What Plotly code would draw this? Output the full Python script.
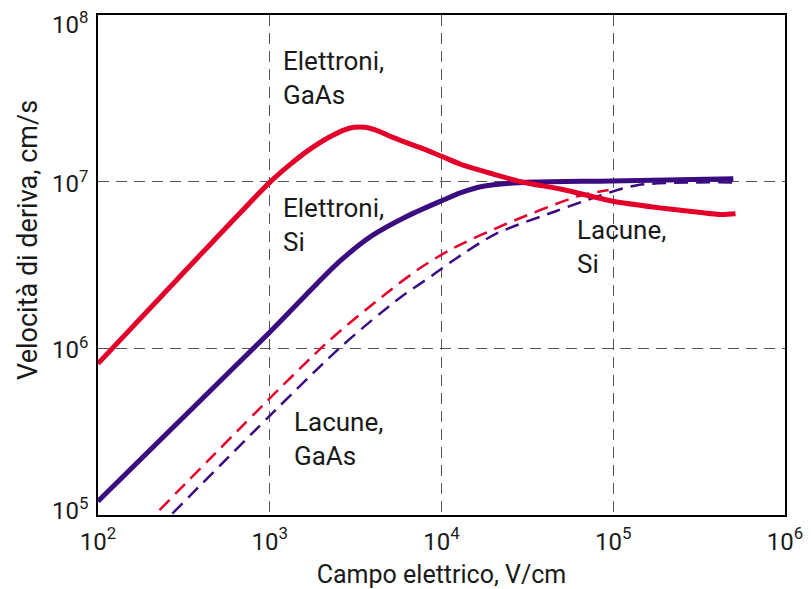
import math
import plotly.graph_objects as go

# ---- data ----
field_e_gaas = [100, 300, 1000, 1300, 1700, 2200, 2700, 3100, 3600, 4300, 5150, 7400, 10000, 13000, 20000, 29400, 50000, 98000, 200000, 314000, 420000, 515000]
v_e_gaas = [8.1e5, 2.7e6, 9.9e6, 1.256e7, 1.556e7, 1.84e7, 2.04e7, 2.12e7, 2.12e7, 2.01e7, 1.85e7, 1.61e7, 1.42e7, 1.27e7, 1.11e7, 9.95e6, 9.0e6, 7.66e6, 6.9e6, 6.55e6, 6.35e6, 6.42e6]

field_e_si = [100, 1000, 2540, 3940, 6220, 9660, 13000, 17200, 24000, 35000, 98000, 500000]
v_e_si = [1.21e5, 1.25e6, 3.31e6, 4.74e6, 6.16e6, 7.56e6, 8.6e6, 9.35e6, 9.75e6, 9.95e6, 1.01e7, 1.04e7]

field_h_gaas = [228, 2130, 4510, 7400, 11500, 23700, 63000, 94000]
v_h_gaas = [1.07e5, 1.07e6, 2.04e6, 3.0e6, 3.95e6, 5.57e6, 8.2e6, 8.9e6]

field_h_si = [271, 2540, 5660, 8810, 12100, 20700, 46300, 82400, 140000, 500000]
v_h_si = [1.02e5, 1.0e6, 1.99e6, 2.73e6, 3.45e6, 4.86e6, 6.65e6, 8.2e6, 9.55e6, 9.9e6]

x_tickvals = [1e2, 1e3, 1e4, 1e5, 1e6]
x_ticktext = ["10<sup>2</sup>", "10<sup>3</sup>", "10<sup>4</sup>", "10<sup>5</sup>", "10<sup>6</sup>"]
y_tickvals = [1e5, 1e6, 1e7, 1e8]
y_ticktext = ["10<sup>5</sup>", "10<sup>6</sup>", "10<sup>7</sup>", "10<sup>8</sup>"]

labels = ["Elettroni,<br>GaAs", "Elettroni,<br>Si", "Lacune,<br>Si", "Lacune,<br>GaAs"]
label_x = [1160, 1160, 59700, 1353]
label_y = [4.18e7, 5.53e6, 4.03e6, 2.86e5]

# style: vertical nudges (px) of the y tick labels, as in the reference
y_label_shift = [6, 0, 0, -8]

RED = "#E2002B"
PURPLE = "#3B0C80"
FONT = "Roboto, sans-serif"
TXT = "#1a1a1a"

fig = go.Figure()
fig.add_trace(go.Scatter(x=field_e_si, y=v_e_si, mode="lines",
                         line=dict(color=PURPLE, width=5, shape="spline", smoothing=0.8)))
fig.add_trace(go.Scatter(x=field_h_si, y=v_h_si, mode="lines",
                         line=dict(color=PURPLE, width=2.5, dash="14px,8px", shape="spline", smoothing=0.8)))
fig.add_trace(go.Scatter(x=field_h_gaas, y=v_h_gaas, mode="lines",
                         line=dict(color=RED, width=2.5, dash="14px,8px", shape="spline", smoothing=0.8)))
fig.add_trace(go.Scatter(x=field_e_gaas, y=v_e_gaas, mode="lines",
                         line=dict(color=RED, width=5, shape="spline", smoothing=0.8)))

for t, xv, yv in zip(labels, label_x, label_y):
    fig.add_annotation(x=math.log10(xv), y=math.log10(yv), text=t,
                       showarrow=False, xanchor="left", yanchor="middle", align="left",
                       font=dict(family=FONT, size=26, color=TXT))

# y tick labels drawn from the tick lists (so the end labels can sit inside like the reference)
for tv, tt, sh in zip(y_tickvals, y_ticktext, y_label_shift):
    fig.add_annotation(x=0, xref="paper", y=math.log10(tv), yref="y", text=tt,
                       showarrow=False, xanchor="right", yanchor="middle",
                       xshift=-8, yshift=sh, font=dict(family=FONT, size=24, color=TXT))

fig.add_annotation(text="Velocità di deriva, cm/s", xref="paper", yref="paper",
                   x=-0.102, y=0.55, textangle=-90, showarrow=False,
                   xanchor="center", yanchor="middle",
                   font=dict(family=FONT, size=27, color=TXT))

fig.update_xaxes(type="log", range=[2, 6], tickvals=x_tickvals, ticktext=x_ticktext,
                 showline=True, linecolor="black", linewidth=1.5, mirror=True,
                 showgrid=True, gridcolor="#555555", gridwidth=1.3, griddash="11px,7px",
                 ticks="", ticklabelstandoff=4, zeroline=False, automargin=False,
                 ticklabeloverflow="allow",
                 tickfont=dict(family=FONT, size=24, color=TXT),
                 title=dict(text="Campo elettrico, V/cm", font=dict(family=FONT, size=25, color=TXT), standoff=13))
fig.update_yaxes(type="log", range=[5, 8], tickvals=y_tickvals, ticktext=y_ticktext,
                 showticklabels=False,
                 showline=True, linecolor="black", linewidth=1.5, mirror=True,
                 showgrid=True, gridcolor="#555555", gridwidth=1.3, griddash="11px,7px",
                 ticks="", zeroline=False, automargin=False)

# the page body adds an 8 px offset, so the figure is sized/margined to compensate
fig.update_layout(width=803, height=581, showlegend=False,
                  margin=dict(l=90, r=26, t=7, b=74),
                  plot_bgcolor="white", paper_bgcolor="white")

fig.write_html("out.html")
